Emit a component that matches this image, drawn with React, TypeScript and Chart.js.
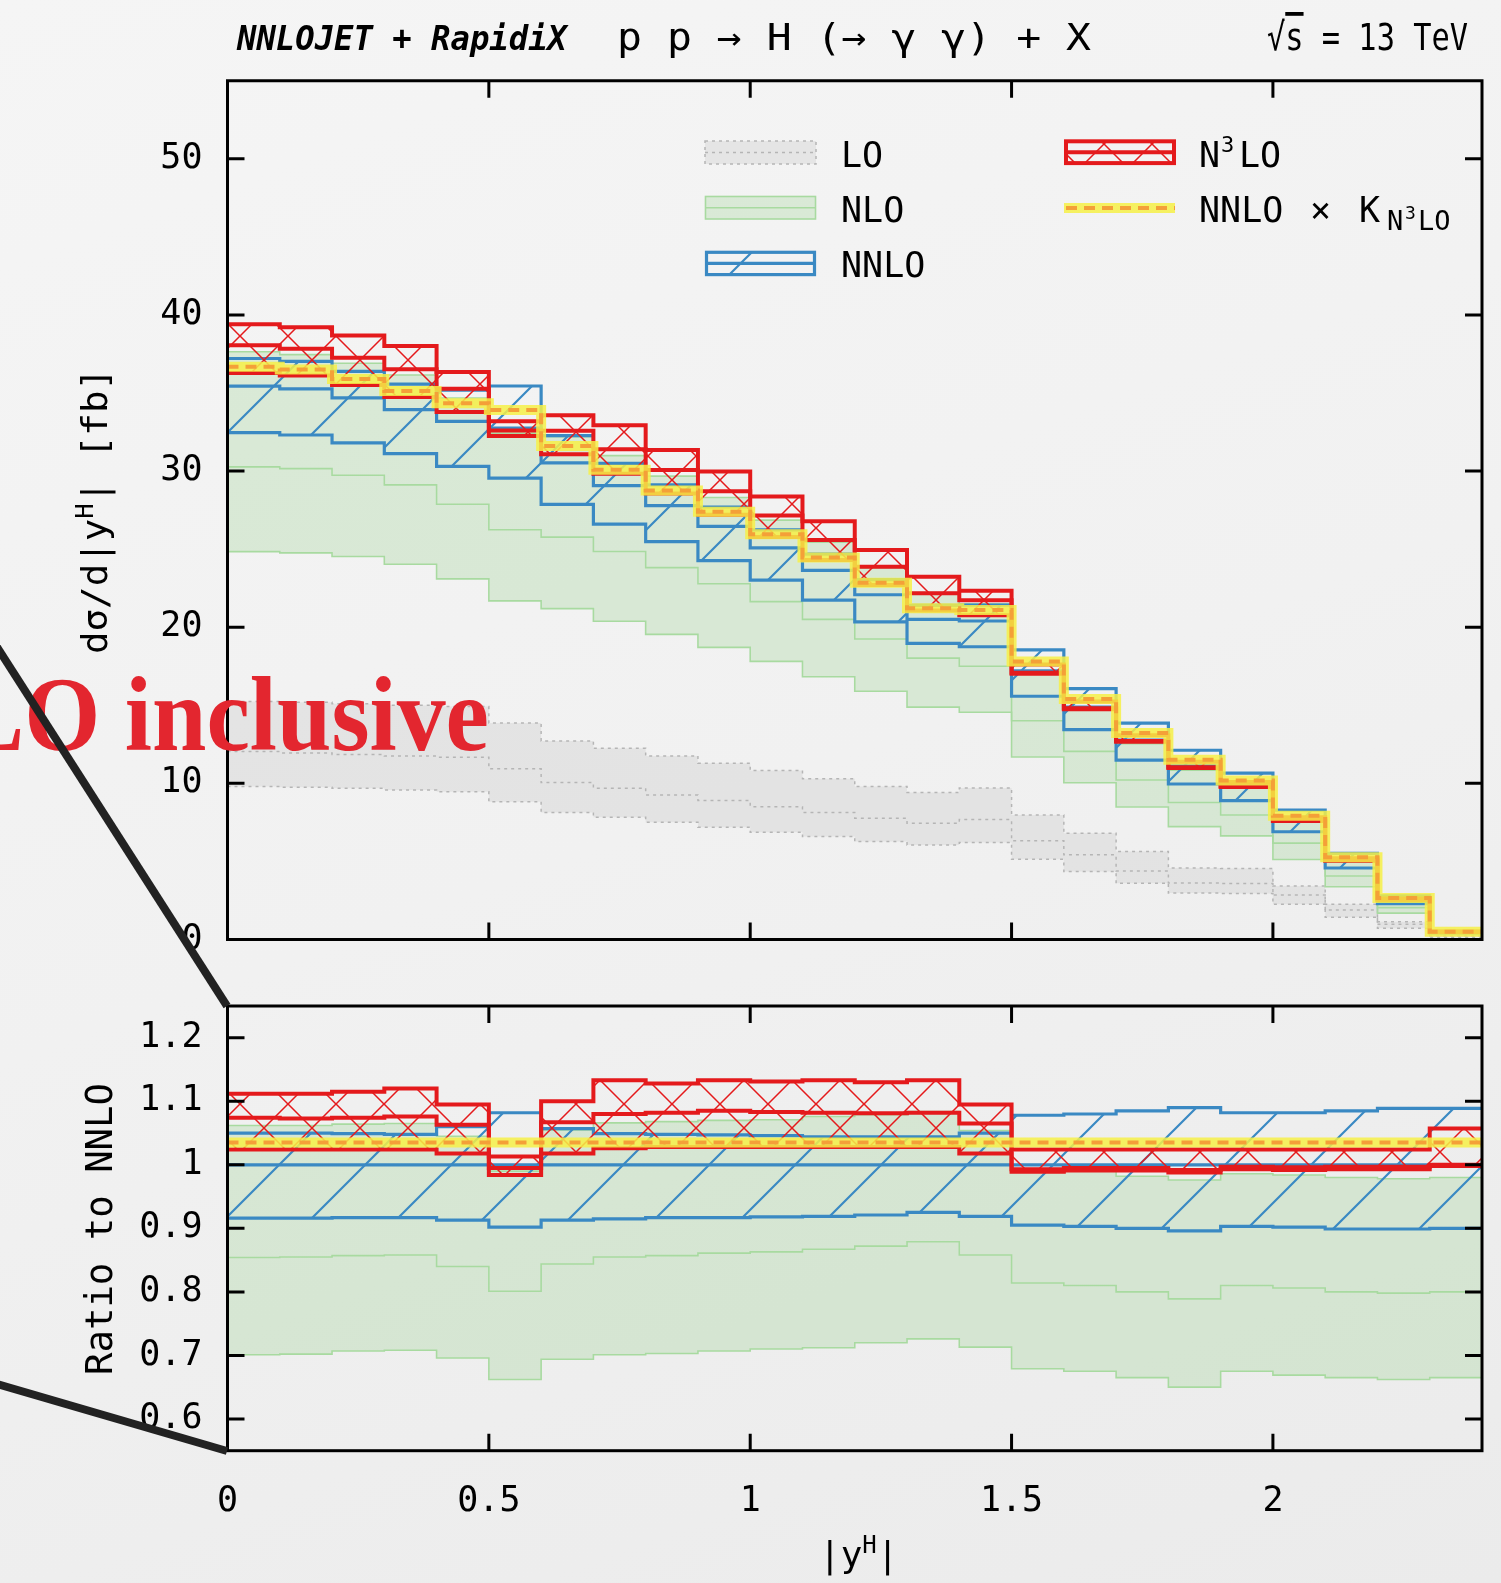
import { useEffect, useRef } from 'react';
import { Chart, registerables } from 'chart.js';

Chart.register(...registerables);

// ---------------- data ----------------
const binEdges = [0, 0.1, 0.2, 0.3, 0.4, 0.5, 0.6, 0.7, 0.8, 0.9, 1.0, 1.1, 1.2, 1.3, 1.4, 1.5, 1.6, 1.7, 1.8, 1.9, 2.0, 2.1, 2.2, 2.3, 2.4];

// main panel: dσ/d|yH| [fb]
const loHigh = [15.24, 15.2, 15.1, 15.0, 14.92, 13.86, 12.72, 12.25, 11.76, 11.29, 10.82, 10.29, 9.8, 9.41, 9.71, 7.98, 6.81, 5.63, 4.58, 4.55, 3.43, 2.25, 1.14, 0.35];
const loCentral = [12.04, 11.95, 11.85, 11.75, 11.68, 10.93, 10.05, 9.69, 9.26, 8.9, 8.51, 8.13, 7.77, 7.45, 7.68, 6.33, 5.42, 4.39, 3.62, 3.58, 2.85, 1.89, 0.97, 0.24];
const loLow = [9.8, 9.75, 9.68, 9.58, 9.47, 8.83, 8.13, 7.83, 7.51, 7.19, 6.87, 6.59, 6.27, 6.06, 6.21, 5.14, 4.35, 3.6, 2.98, 2.95, 2.25, 1.42, 0.72, 0.15];

const nloHigh = [37.64, 37.46, 36.91, 36.15, 34.68, 32.43, 32.21, 30.99, 29.68, 28.31, 26.86, 25.44, 23.82, 22.22, 21.5, 17.04, 14.73, 12.54, 10.85, 9.7, 7.53, 4.99, 2.5, 0.47];
const nloCentral = [30.27, 30.16, 29.73, 29.12, 27.88, 26.24, 25.77, 24.85, 23.82, 22.78, 21.64, 20.5, 19.25, 18.02, 17.5, 14.01, 12.05, 10.22, 8.77, 7.97, 6.17, 4.07, 2.04, 0.38];
const nloLow = [24.84, 24.76, 24.53, 24.03, 23.1, 21.69, 21.19, 20.38, 19.54, 18.71, 17.81, 16.83, 15.9, 14.88, 14.55, 11.69, 10.04, 8.49, 7.23, 6.64, 5.12, 3.38, 1.69, 0.32];

const nnloHigh = [37.21, 37.03, 36.39, 35.57, 35.18, 35.45, 32.27, 30.49, 29.12, 27.7, 26.23, 24.68, 23.05, 21.4, 21.42, 18.55, 16.07, 13.86, 12.12, 10.65, 8.28, 5.52, 2.79, 0.52];
const nnloCentral = [35.44, 35.27, 34.69, 33.94, 33.19, 32.76, 30.53, 29.07, 27.79, 26.46, 25.08, 23.64, 22.08, 20.5, 20.4, 17.21, 14.88, 12.77, 11.12, 9.84, 7.65, 5.09, 2.56, 0.48];
const nnloLow = [32.46, 32.31, 31.81, 31.12, 30.3, 29.55, 27.87, 26.6, 25.48, 24.26, 23.02, 21.73, 20.34, 18.96, 18.75, 15.58, 13.44, 11.49, 9.96, 8.89, 6.9, 4.58, 2.3, 0.43];

const n3loHigh = [39.41, 39.22, 38.68, 38.01, 36.34, 33.19, 33.58, 32.94, 31.35, 29.98, 28.37, 26.78, 24.95, 23.23, 22.34, 17.62, 15.24, 13.08, 11.39, 10.08, 7.83, 5.21, 2.62, 0.51];
const n3loCentral = [38.06, 37.84, 37.26, 36.52, 35.28, 32.6, 32.58, 31.4, 30.07, 28.71, 27.16, 25.58, 23.87, 22.18, 21.73, 17.09, 14.81, 12.71, 11.03, 9.81, 7.62, 5.07, 2.55, 0.48];
const n3loLow = [36.29, 36.12, 35.52, 34.75, 33.79, 32.24, 31.08, 29.83, 28.57, 27.2, 25.78, 24.3, 22.7, 21.07, 20.77, 17.02, 14.75, 12.66, 10.99, 9.77, 7.59, 5.05, 2.54, 0.48];

const nnloTimesK = [36.68, 36.5, 35.9, 35.13, 34.35, 33.91, 31.6, 30.09, 28.76, 27.39, 25.96, 24.47, 22.85, 21.22, 21.11, 17.81, 15.4, 13.22, 11.51, 10.18, 7.92, 5.27, 2.65, 0.5];

// ratio panel: ratio to NNLO
const ratioNloHigh = [1.062, 1.062, 1.064, 1.065, 1.045, 0.99, 1.055, 1.066, 1.068, 1.07, 1.071, 1.076, 1.079, 1.084, 1.054, 0.99, 0.99, 0.982, 0.976, 0.986, 0.984, 0.98, 0.978, 0.98];
const ratioNloCentral = [0.854, 0.855, 0.857, 0.858, 0.84, 0.801, 0.844, 0.855, 0.857, 0.861, 0.863, 0.867, 0.872, 0.879, 0.858, 0.814, 0.81, 0.8, 0.789, 0.81, 0.806, 0.8, 0.798, 0.8];
const ratioNloLow = [0.701, 0.702, 0.707, 0.708, 0.696, 0.662, 0.694, 0.701, 0.703, 0.707, 0.71, 0.712, 0.72, 0.726, 0.713, 0.679, 0.675, 0.665, 0.65, 0.675, 0.669, 0.665, 0.662, 0.665];
const ratioNnloHigh = [1.05, 1.05, 1.049, 1.048, 1.06, 1.082, 1.057, 1.049, 1.048, 1.047, 1.046, 1.044, 1.044, 1.044, 1.05, 1.078, 1.08, 1.085, 1.09, 1.082, 1.082, 1.085, 1.089, 1.089];
const ratioNnloCentral = [1, 1, 1, 1, 1, 1, 1, 1, 1, 1, 1, 1, 1, 1, 1, 1, 1, 1, 1, 1, 1, 1, 1, 1];
const ratioNnloLow = [0.916, 0.916, 0.917, 0.917, 0.913, 0.902, 0.913, 0.915, 0.917, 0.917, 0.918, 0.919, 0.921, 0.925, 0.919, 0.905, 0.903, 0.9, 0.896, 0.903, 0.902, 0.899, 0.899, 0.9];
const ratioN3loHigh = [1.112, 1.112, 1.115, 1.12, 1.095, 1.013, 1.1, 1.133, 1.128, 1.133, 1.131, 1.133, 1.13, 1.133, 1.095, 1.024, 1.024, 1.024, 1.024, 1.024, 1.024, 1.024, 1.024, 1.057];
const ratioN3loCentral = [1.074, 1.073, 1.074, 1.076, 1.063, 0.995, 1.067, 1.08, 1.082, 1.085, 1.083, 1.082, 1.081, 1.082, 1.065, 0.993, 0.995, 0.995, 0.992, 0.997, 0.996, 0.997, 0.997, 1.0];
const ratioN3loLow = [1.024, 1.024, 1.024, 1.024, 1.018, 0.984, 1.018, 1.026, 1.028, 1.028, 1.028, 1.028, 1.028, 1.028, 1.018, 0.989, 0.991, 0.991, 0.988, 0.993, 0.992, 0.993, 0.993, 0.998];
const ratioNnloTimesK = [1.035, 1.035, 1.035, 1.035, 1.035, 1.035, 1.035, 1.035, 1.035, 1.035, 1.035, 1.035, 1.035, 1.035, 1.035, 1.035, 1.035, 1.035, 1.035, 1.035, 1.035, 1.035, 1.035, 1.035];

// ticks
const xTicks = [0, 0.5, 1, 1.5, 2];
const xTickLabels = ['0', '0.5', '1', '1.5', '2'];
const mainYTicks = [0, 10, 20, 30, 40, 50];
const mainYTickLabels = ['0', '10', '20', '30', '40', '50'];
const ratioYTicks = [0.6, 0.7, 0.8, 0.9, 1.0, 1.1, 1.2];
const ratioYTickLabels = ['0.6', '0.7', '0.8', '0.9', '1', '1.1', '1.2'];

// ---------------- styles ----------------
const MONO = "'DejaVu Sans Mono', monospace";
const BLUE = '#3a89c3';
const RED = '#e41a1c';
const GREEN_LINE = '#a8daa0';
const GREEN_FILL = 'rgba(150,210,140,0.28)';
const GRAY_LINE = '#b5b5b5';
const GRAY_FILL = 'rgba(200,200,200,0.32)';
const YELLOW = 'rgba(246,240,70,0.85)';
const ORANGE = '#f4a038';

const MAIN_H = 1000;

function stepPoints(vals: number[]) {
  const pts = vals.map((v, i) => ({ x: binEdges[i], y: v }));
  pts.push({ x: binEdges[vals.length], y: vals[vals.length - 1] });
  return pts;
}

function makeHatch(size: number, color: string, width: number, cross: boolean, ox: number, oy: number) {
  const c = document.createElement('canvas');
  c.width = size;
  c.height = size;
  const g = c.getContext('2d')!;
  g.strokeStyle = color;
  g.lineWidth = width;
  g.beginPath();
  for (let k = -1; k <= 1; k++) {
    g.moveTo(-2, size + k * size + 2);
    g.lineTo(size + 2, k * size - 2);
    if (cross) {
      g.moveTo(-2, -2 + k * size);
      g.lineTo(size + 2, size + 2 + k * size);
    }
  }
  g.stroke();
  const p = g.createPattern(c, 'repeat')!;
  if (ox || oy) p.setTransform(new DOMMatrix([1, 0, 0, 1, ox, oy]));
  return p;
}

type BandStyle = { line: string; width: number; cwidth?: number; dash?: number[]; fill: any; order: number };

function pushBand(list: any[], lo: number[], c: number[], hi: number[], st: BandStyle) {
  const base = list.length;
  const common = {
    pointRadius: 0,
    stepped: true,
    tension: 0,
    borderJoinStyle: 'miter',
    borderCapStyle: 'butt',
    borderColor: st.line,
    borderDash: st.dash || [],
  };
  list.push({ ...common, data: stepPoints(lo), borderWidth: st.width, fill: false, order: st.order - 1 });
  list.push({ ...common, data: stepPoints(hi), borderWidth: st.width, fill: base, backgroundColor: st.fill, order: st.order });
  list.push({ ...common, data: stepPoints(c), borderWidth: st.cwidth ?? st.width, fill: false, order: st.order - 2 });
}

function pushKLine(list: any[], vals: number[]) {
  const common = { pointRadius: 0, stepped: true, tension: 0, fill: false, borderJoinStyle: 'miter', borderCapStyle: 'butt' };
  list.push({ ...common, data: stepPoints(vals), borderColor: YELLOW, borderWidth: 10, order: 61 });
  list.push({ ...common, data: stepPoints(vals), borderColor: ORANGE, borderWidth: 4, borderDash: [11, 7], order: 60 });
}

function framePlugin(xT: number[], yT: number[]) {
  return {
    id: 'frameTicks',
    afterDatasetsDraw(chart: any) {
      const { ctx, chartArea: a, scales } = chart;
      ctx.save();
      ctx.strokeStyle = '#000';
      ctx.lineWidth = 3;
      ctx.setLineDash([]);
      ctx.strokeRect(a.left, a.top, a.right - a.left, a.bottom - a.top);
      const L = 17;
      ctx.beginPath();
      xT.forEach((v) => {
        const px = scales.x.getPixelForValue(v);
        if (px <= a.left + 2 || px >= a.right - 2) return;
        ctx.moveTo(px, a.bottom);
        ctx.lineTo(px, a.bottom - L);
        ctx.moveTo(px, a.top);
        ctx.lineTo(px, a.top + L);
      });
      yT.forEach((v) => {
        const py = scales.y.getPixelForValue(v);
        if (py <= a.top + 2 || py >= a.bottom - 2) return;
        ctx.moveTo(a.left, py);
        ctx.lineTo(a.left + L, py);
        ctx.moveTo(a.right, py);
        ctx.lineTo(a.right - L, py);
      });
      ctx.stroke();
      ctx.restore();
    },
  };
}

function yAxis(min: number, max: number, ticks: number[], labels: string[]) {
  return {
    type: 'linear',
    position: 'left',
    min,
    max,
    afterFit: (s: any) => {
      s.width = 227.5;
    },
    afterBuildTicks: (s: any) => {
      s.ticks = ticks.map((v) => ({ value: v }));
    },
    grid: { display: false, drawTicks: false },
    border: { display: false },
    ticks: {
      autoSkip: false,
      color: '#000',
      padding: 25,
      font: { family: MONO, size: 35 },
      callback: (_v: any, i: number) => labels[i],
    },
  };
}

export default function App() {
  const mainRef = useRef<HTMLCanvasElement>(null);
  const ratioRef = useRef<HTMLCanvasElement>(null);

  useEffect(() => {
    const blueMain = makeHatch(86, BLUE, 2.2, false, 58, 0);
    const blueRatio = makeHatch(86, BLUE, 2.2, false, 54, 0);
    const redMain = makeHatch(48, RED, 1.5, true, 0, 0);
    const redRatio = makeHatch(48, RED, 1.5, true, 0, 0);

    // main panel datasets
    const mainSets: any[] = [];
    pushBand(mainSets, loLow, loCentral, loHigh, { line: GRAY_LINE, width: 1.5, dash: [3, 4], fill: GRAY_FILL, order: 100 });
    pushBand(mainSets, nloLow, nloCentral, nloHigh, { line: GREEN_LINE, width: 1.6, fill: GREEN_FILL, order: 90 });
    pushBand(mainSets, nnloLow, nnloCentral, nnloHigh, { line: BLUE, width: 3.2, fill: blueMain, order: 80 });
    pushBand(mainSets, n3loLow, n3loCentral, n3loHigh, { line: RED, width: 4, fill: redMain, order: 70 });
    pushKLine(mainSets, nnloTimesK);

    // ratio panel datasets
    const ratioSets: any[] = [];
    pushBand(ratioSets, ratioNloLow, ratioNloCentral, ratioNloHigh, { line: GREEN_LINE, width: 1.6, fill: GREEN_FILL, order: 90 });
    pushBand(ratioSets, ratioNnloLow, ratioNnloCentral, ratioNnloHigh, { line: BLUE, width: 3.2, fill: blueRatio, order: 80 });
    pushBand(ratioSets, ratioN3loLow, ratioN3loCentral, ratioN3loHigh, { line: RED, width: 4, fill: redRatio, order: 70 });
    pushKLine(ratioSets, ratioNnloTimesK);

    const legendPlugin = {
      id: 'customLegend',
      afterDatasetsDraw(chart: any) {
        const ctx = chart.ctx;
        ctx.save();
        const box = (x: number, y: number, w: number, h: number, fill: any, stroke: string, lw: number, dash: number[]) => {
          if (fill) {
            ctx.fillStyle = fill;
            ctx.fillRect(x, y, w, h);
          }
          ctx.strokeStyle = stroke;
          ctx.lineWidth = lw;
          ctx.setLineDash(dash);
          ctx.strokeRect(x, y, w, h);
          ctx.beginPath();
          ctx.moveTo(x, y + h / 2);
          ctx.lineTo(x + w, y + h / 2);
          ctx.stroke();
        };
        box(705, 141, 111, 23, GRAY_FILL, GRAY_LINE, 1.5, [3, 4]);
        box(705.5, 196.5, 110, 22.5, GREEN_FILL, GREEN_LINE, 1.6, []);
        box(706.5, 252.3, 108, 22.3, blueMain, BLUE, 3.2, []);
        box(1066, 141.3, 108, 21.8, redMain, RED, 4, []);
        ctx.setLineDash([]);
        ctx.lineCap = 'butt';
        ctx.strokeStyle = YELLOW;
        ctx.lineWidth = 10;
        ctx.beginPath();
        ctx.moveTo(1064, 208);
        ctx.lineTo(1175, 208);
        ctx.stroke();
        ctx.strokeStyle = ORANGE;
        ctx.lineWidth = 4;
        ctx.setLineDash([11, 7]);
        ctx.beginPath();
        ctx.moveTo(1066, 208);
        ctx.lineTo(1175, 208);
        ctx.stroke();
        ctx.restore();
      },
    };

    const mainChart = new Chart(mainRef.current!, {
      type: 'line',
      data: { datasets: mainSets },
      options: {
        responsive: false,
        animation: false,
        events: [],
        layout: { autoPadding: false, padding: { left: 0, right: 19, top: 80.75, bottom: MAIN_H - 939.5 } },
        plugins: { legend: { display: false }, tooltip: { enabled: false } },
        scales: {
          x: {
            type: 'linear',
            min: 0,
            max: 2.4,
            display: true,
            afterFit: (s: any) => {
              s.height = 0;
            },
            ticks: { display: false },
            grid: { display: false, drawTicks: false },
            border: { display: false },
          },
          y: yAxis(0, 55, mainYTicks, mainYTickLabels),
        },
      } as any,
      plugins: [framePlugin(xTicks, mainYTicks), legendPlugin],
    });

    const ratioChart = new Chart(ratioRef.current!, {
      type: 'line',
      data: { datasets: ratioSets },
      options: {
        responsive: false,
        animation: false,
        events: [],
        layout: { autoPadding: false, padding: { left: 0, right: 19, top: 45, bottom: 52.3 } },
        plugins: { legend: { display: false }, tooltip: { enabled: false } },
        scales: {
          x: {
            type: 'linear',
            min: 0,
            max: 2.4,
            afterFit: (s: any) => {
              s.height = 80;
            },
            afterBuildTicks: (s: any) => {
              s.ticks = xTicks.map((v) => ({ value: v }));
            },
            grid: { display: false, drawTicks: false },
            border: { display: false },
            ticks: {
              autoSkip: false,
              maxRotation: 0,
              color: '#000',
              padding: 30,
              font: { family: MONO, size: 35 },
              callback: (_v: any, i: number) => xTickLabels[i],
            },
          },
          y: yAxis(0.55, 1.25, ratioYTicks, ratioYTickLabels),
        },
      } as any,
      plugins: [framePlugin(xTicks, ratioYTicks)],
    });

    return () => {
      mainChart.destroy();
      ratioChart.destroy();
    };
  }, []);

  return (
    <div
      style={{
        position: 'fixed',
        left: 0,
        top: 0,
        width: 1501,
        height: 1583,
        overflow: 'hidden',
        background: 'linear-gradient(160deg, #f5f5f5 0%, #f1f1f1 50%, #ebebeb 100%)',
      }}
    >
      <canvas ref={mainRef} width={1501} height={MAIN_H} style={{ position: 'absolute', left: 0, top: 0, width: 1501, height: MAIN_H }} />
      <canvas ref={ratioRef} width={1501} height={623} style={{ position: 'absolute', left: 0, top: 960, width: 1501, height: 623 }} />
      <svg width={1501} height={1583} style={{ position: 'absolute', left: 0, top: 0, pointerEvents: 'none' }}>
        <g fontFamily={MONO} fill="#000">
          <text x={237} y={50} fontSize={33} fontWeight="bold" fontStyle="italic" textLength={330} lengthAdjust="spacingAndGlyphs">
            NNLOJET + RapidiX
          </text>
          <text x={617} y={50} fontSize={38} textLength={474} lengthAdjust="spacingAndGlyphs">
            p p → H (→ γ γ) + X
          </text>
          <text x={1267} y={50} fontSize={38} textLength={201} lengthAdjust="spacingAndGlyphs">
            √<tspan style={{ textDecoration: 'overline' }}>s</tspan> = 13 TeV
          </text>

          <text x={841} y={166.5} fontSize={35}>LO</text>
          <text x={841} y={221.5} fontSize={35}>NLO</text>
          <text x={841} y={276.5} fontSize={35}>NNLO</text>
          <text x={1199} y={166.5} fontSize={35}>
            N<tspan x={1221} dy={-15} fontSize={22}>3</tspan>
            <tspan x={1239} dy={15}>LO</tspan>
          </text>
          <text x={1199} y={221.5} fontSize={35}>
            NNLO<tspan x={1310}>×</tspan>
            <tspan x={1359}>K</tspan>
            <tspan x={1387} dy={8.5} fontSize={27}>N</tspan>
            <tspan x={1405} dy={-11} fontSize={18}>3</tspan>
            <tspan x={1418} dy={11} fontSize={27}>LO</tspan>
          </text>

          <text transform="translate(107,511) rotate(-90)" textAnchor="middle" fontSize={35} textLength={286} lengthAdjust="spacingAndGlyphs">
            dσ/d|y<tspan dy={-14} fontSize={24}>H</tspan>
            <tspan dy={14}>| [fb]</tspan>
          </text>
          <text transform="translate(112,1229) rotate(-90)" textAnchor="middle" fontSize={37} textLength={292} lengthAdjust="spacingAndGlyphs">
            Ratio to NNLO
          </text>
          <text x={819} y={1567} fontSize={36}>
            |y<tspan dy={-14} fontSize={24}>H</tspan>
            <tspan dy={14}>|</tspan>
          </text>
        </g>
        <text
          x={-41}
          y={750}
          fontFamily="'Liberation Serif', 'Times New Roman', serif"
          fontWeight="bold"
          fontSize={106}
          fill="#e3262f"
          textLength={530}
          lengthAdjust="spacingAndGlyphs"
        >
          LO inclusive
        </text>
        <line x1={-10} y1={636} x2={227} y2={1006} stroke="#222" strokeWidth={8} />
        <line x1={-10} y1={1382} x2={227} y2={1451} stroke="#222" strokeWidth={8} />
      </svg>
    </div>
  );
}
